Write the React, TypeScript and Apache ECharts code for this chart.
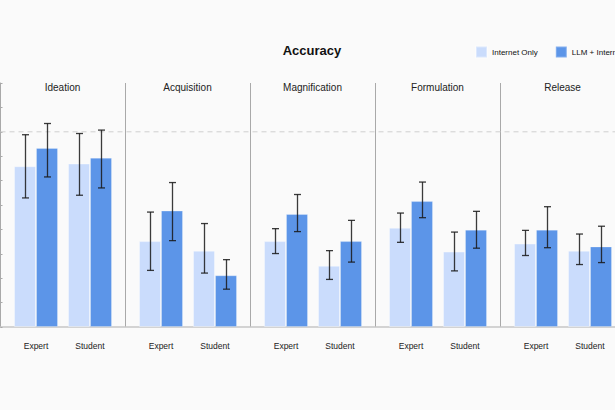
import React, { useEffect, useRef } from "react";
import * as echarts from "echarts";

const panels = ["Ideation", "Acquisition", "Magnification", "Formulation", "Release"];
const groups = ["Expert", "Student"];

const internetExpert = [0.659, 0.352, 0.352, 0.407, 0.342];
const internetStudent = [0.67, 0.313, 0.251, 0.309, 0.313];
const llmExpert = [0.734, 0.477, 0.463, 0.516, 0.399];
const llmStudent = [0.694, 0.212, 0.352, 0.399, 0.33];

const internetExpertLow = [0.529, 0.232, 0.301, 0.347, 0.293];
const internetExpertHigh = [0.788, 0.471, 0.403, 0.467, 0.396];
const internetStudentLow = [0.54, 0.221, 0.195, 0.23, 0.256];
const internetStudentHigh = [0.793, 0.424, 0.313, 0.389, 0.381];
const llmExpertLow = [0.615, 0.354, 0.391, 0.448, 0.325];
const llmExpertHigh = [0.834, 0.592, 0.543, 0.594, 0.493];
const llmStudentLow = [0.57, 0.155, 0.266, 0.323, 0.264];
const llmStudentHigh = [0.807, 0.276, 0.437, 0.474, 0.413];

const referenceLevel = 0.8;

const FONT = "'Liberation Sans', Arial, Helvetica, sans-serif";
const LIGHT = "#cadcfc";
const DARK = "#5c95e8";
const BAR_W = 22;
const PANEL_W = 125;
const TOP = 83;
const HEIGHT = 244;

export default function App() {
  const ref = useRef<HTMLDivElement>(null);
  useEffect(() => {
    if (!ref.current) return;
    const chart = echarts.init(ref.current, null, { renderer: "svg" });

    const grids: any[] = [
      { left: 0.5, top: TOP, width: PANEL_W * panels.length, height: HEIGHT },
    ];
    const xAxes: any[] = [
      {
        type: "value",
        gridIndex: 0,
        min: 0,
        max: panels.length,
        interval: 1,
        axisLine: { show: true, onZero: false, lineStyle: { color: "#c6c6c6", width: 1.5 } },
        axisTick: { show: false },
        axisLabel: { show: false },
        splitLine: { show: true, lineStyle: { color: "#a9a9a9", width: 1 } },
      },
    ];
    const yAxes: any[] = [
      {
        type: "value",
        gridIndex: 0,
        min: 0,
        max: 1,
        interval: 0.1,
        axisLine: { show: true, lineStyle: { color: "#a9a9a9" } },
        axisTick: { show: true, inside: true, length: 2, lineStyle: { color: "#a9a9a9" } },
        axisLabel: { show: false },
        splitLine: { show: false },
      },
    ];
    const series: any[] = [
      {
        type: "line",
        xAxisIndex: 0,
        yAxisIndex: 0,
        data: [
          [0, referenceLevel],
          [panels.length, referenceLevel],
        ],
        symbol: "none",
        silent: true,
        lineStyle: { color: "#cfcfcf", width: 1, type: [5, 4] },
        z: 1,
      },
    ];
    const titles: any[] = [
      {
        text: "Accuracy",
        left: 312,
        top: 44,
        textAlign: "center",
        padding: 0,
        textStyle: { fontFamily: FONT, fontSize: 13, fontWeight: "bold", color: "#111" },
      },
    ];

    panels.forEach((name, i) => {
      const gi = i + 1;
      grids.push({ left: i * PANEL_W + 9, top: TOP, width: 108, height: HEIGHT });
      xAxes.push({
        type: "category",
        gridIndex: gi,
        data: groups,
        axisLine: { show: false },
        axisTick: { show: false },
        axisLabel: { fontFamily: FONT, fontSize: 8.5, color: "#222", margin: 14 },
      });
      yAxes.push({ type: "value", gridIndex: gi, min: 0, max: 1, show: false });
      titles.push({
        text: name,
        left: i * PANEL_W + PANEL_W / 2,
        top: 82,
        textAlign: "center",
        padding: 0,
        textStyle: { fontFamily: FONT, fontSize: 10, fontWeight: "normal", color: "#222" },
      });
      series.push({
        name: "Internet Only",
        type: "bar",
        xAxisIndex: gi,
        yAxisIndex: gi,
        barWidth: BAR_W,
        barGap: "0%",
        data: [internetExpert[i], internetStudent[i]],
        itemStyle: { color: LIGHT, borderColor: "rgba(255,255,255,0.35)", borderWidth: 1 },
        z: 2,
      });
      series.push({
        name: "LLM + Internet",
        type: "bar",
        xAxisIndex: gi,
        yAxisIndex: gi,
        barWidth: BAR_W,
        barGap: "0%",
        data: [llmExpert[i], llmStudent[i]],
        itemStyle: { color: DARK, borderColor: "rgba(255,255,255,0.25)", borderWidth: 1 },
        z: 2,
      });
      series.push({
        type: "custom",
        xAxisIndex: gi,
        yAxisIndex: gi,
        silent: true,
        z: 5,
        data: [
          [0, internetExpertLow[i], internetExpertHigh[i], 0],
          [0, llmExpertLow[i], llmExpertHigh[i], 1],
          [1, internetStudentLow[i], internetStudentHigh[i], 0],
          [1, llmStudentLow[i], llmStudentHigh[i], 1],
        ],
        renderItem: (params: any, api: any) => {
          const cat = api.value(0);
          const lo = api.value(1);
          const hi = api.value(2);
          const side = api.value(3);
          const top = api.coord([cat, hi]);
          const bot = api.coord([cat, lo]);
          const x = Math.round(top[0] + (side === 0 ? -BAR_W / 2 : BAR_W / 2)) + 0.5;
          const cap = 3.5;
          const style = { stroke: "rgba(25,25,25,0.85)", lineWidth: 1.3 };
          return {
            type: "group",
            children: [
              { type: "line", shape: { x1: x, y1: top[1], x2: x, y2: bot[1] }, style },
              { type: "line", shape: { x1: x - cap, y1: top[1], x2: x + cap, y2: top[1] }, style },
              { type: "line", shape: { x1: x - cap, y1: bot[1], x2: x + cap, y2: bot[1] }, style },
            ],
          };
        },
      });
    });

    chart.setOption({
      animation: false,
      backgroundColor: "#fafafa",
      title: titles,
      legend: {
        data: ["Internet Only", "LLM + Internet"],
        orient: "horizontal",
        left: 475,
        top: 45.5,
        padding: 0,
        itemWidth: 11,
        itemHeight: 11,
        itemGap: 17,
        icon: "rect",
        textStyle: { fontFamily: FONT, fontSize: 8, color: "#111" },
      },
      grid: grids,
      xAxis: xAxes,
      yAxis: yAxes,
      series,
    });
    return () => chart.dispose();
  }, []);
  return (
    <div
      ref={ref}
      style={{ position: "fixed", left: 0, top: 0, width: 660, height: 410, background: "#fafafa" }}
    />
  );
}
